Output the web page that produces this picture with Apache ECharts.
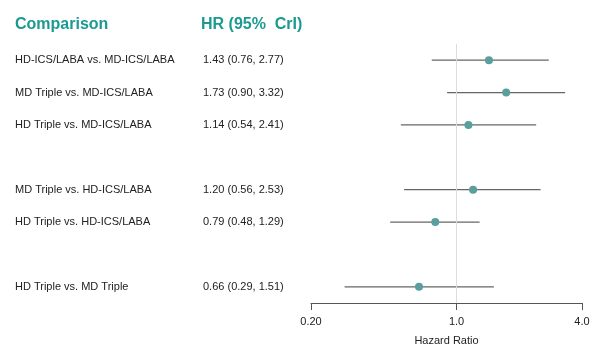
<!DOCTYPE html>
<html>
<head>
<meta charset="utf-8">
<script src="https://cdn.jsdelivr.net/npm/echarts@6/dist/echarts.min.js"></script>
<style>
  html, body { margin: 0; padding: 0; background: #fff; }
  #forest { width: 602px; height: 358px; }
</style>
</head>
<body>
<div id="forest"></div>
<script>
// blank strings are the spacer rows between groups
const comparisons = ['HD-ICS/LABA vs. MD-ICS/LABA', 'MD Triple vs. MD-ICS/LABA', 'HD Triple vs. MD-ICS/LABA', '',
  'MD Triple vs. HD-ICS/LABA', 'HD Triple vs. HD-ICS/LABA', '', 'HD Triple vs. MD Triple']
const hr = [1.43, 1.73, 1.14, null, 1.20, 0.79, null, 0.66]
const lower = [0.76, 0.90, 0.54, null, 0.56, 0.48, null, 0.29]
const upper = [2.77, 3.32, 2.41, null, 2.53, 1.29, null, 1.51]

const font = 'Arial, "Liberation Sans", sans-serif'
const teal = '#1a9a90'

const hrText = hr.map((v, i) => v == null ? '' :
  v.toFixed(2) + ' (' + lower[i].toFixed(2) + ', ' + upper[i].toFixed(2) + ')')

const points = []
const ci = []
hr.forEach((v, i) => {
  if (v == null) return
  points.push([v, i])
  ci.push([lower[i], upper[i], i])
})

const option = {
  animation: false,
  textStyle: { fontFamily: font },
  title: [{
    text: 'Comparison',
    left: 10,
    top: 12,
    textStyle: { color: teal, fontSize: 16, fontWeight: 'bold', fontFamily: font }
  }, {
    text: 'HR (95%  CrI)',
    left: 196,
    top: 12,
    textStyle: { color: teal, fontSize: 16, fontWeight: 'bold', fontFamily: font }
  }],
  grid: {
    left: 311,
    right: 20,
    top: 44,
    bottom: 55
  },
  xAxis: {
    type: 'log',
    min: 0.2,
    max: 4,
    name: 'Hazard Ratio',
    nameLocation: 'middle',
    nameGap: 32,
    nameTextStyle: { color: '#222', fontSize: 11 },
    axisLine: { show: true, lineStyle: { color: '#555' } },
    axisTick: { show: true, length: 7, lineStyle: { color: '#555' } },
    axisLabel: {
      color: '#222',
      fontSize: 11,
      margin: 13,
      formatter: v => v < 1 ? v.toFixed(2) : v.toFixed(1)
    },
    splitLine: { show: false },
    minorTick: { show: false }
  },
  yAxis: [{
    type: 'category',
    data: comparisons,
    inverse: true,
    axisLine: { show: false },
    axisTick: { show: false },
    axisLabel: { color: '#222', fontSize: 11, align: 'left', margin: 296 }
  }, {
    type: 'category',
    data: hrText,
    inverse: true,
    position: 'left',
    axisLine: { show: false },
    axisTick: { show: false },
    axisLabel: { color: '#222', fontSize: 11, align: 'left', margin: 108 }
  }],
  series: [{
    type: 'custom',
    data: ci,
    encode: { x: [0, 1], y: 2 },
    renderItem(params, api) {
      const a = api.coord([api.value(0), api.value(2)])
      const b = api.coord([api.value(1), api.value(2)])
      return {
        type: 'line',
        shape: { x1: a[0], y1: a[1], x2: b[0], y2: b[1] },
        style: { stroke: '#666', lineWidth: 1.3 }
      }
    },
    z: 2
  }, {
    type: 'scatter',
    data: points,
    symbolSize: 8,
    itemStyle: { color: '#5a9e9e', opacity: 1 },
    z: 3,
    markLine: {
      silent: true,
      symbol: 'none',
      label: { show: false },
      lineStyle: { color: '#dcdcdc', type: 'solid', width: 1 },
      data: [{ xAxis: 1 }]
    }
  }]
}

const chart = echarts.init(document.getElementById('forest'))
chart.setOption(option)
</script>
</body>
</html>
